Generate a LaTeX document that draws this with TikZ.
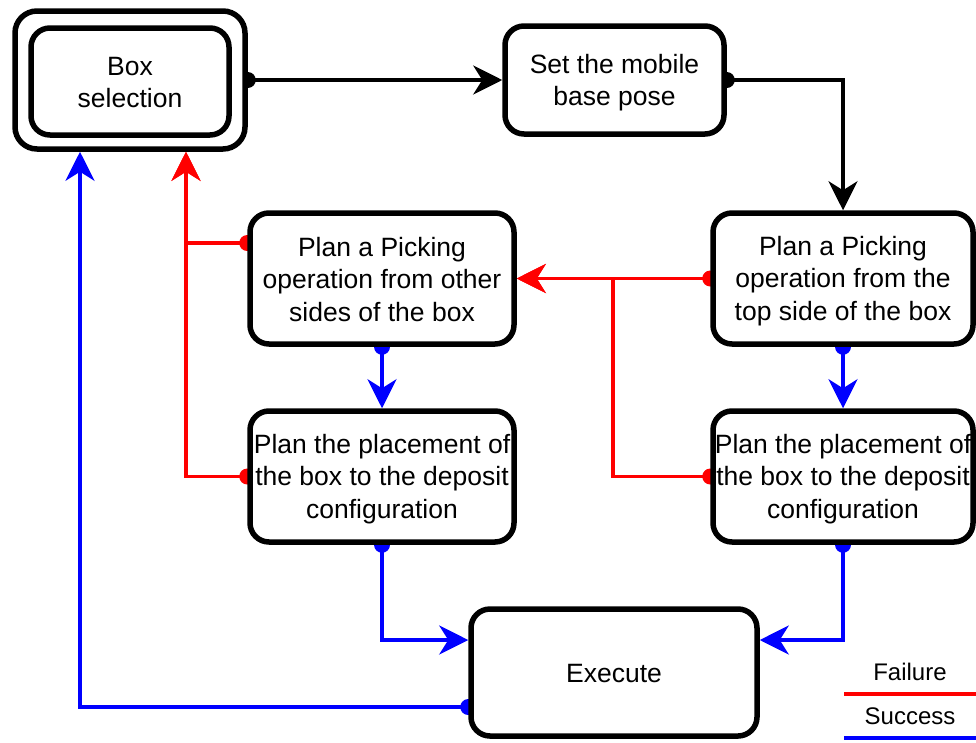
\documentclass[tikz,border=0pt]{standalone}
\usepackage{fontspec}
\setmainfont{Liberation Sans}
\usetikzlibrary{arrows.meta,calc}
\pgfdeclarelayer{bg}
\pgfsetlayers{bg,main}
% uniform line strut for the step labels
\newcommand{\ls}{\rule[-4pt]{0pt}{28pt}}
\begin{document}
\begin{tikzpicture}[x=1pt,y=-1pt,
  stepbox/.style={draw=black,line width=5.5pt,fill=white,rounded corners=19pt,
    inner sep=0pt,align=center,font=\fontsize{26.5}{32.5}\selectfont},
  flow/.style={line width=3.8pt,-{Stealth[length=29pt,width=29pt,inset=9pt]}},
  fail/.style={flow,draw=red,color=red},
  ok/.style={flow,draw=blue,color=blue},
  go/.style={flow,draw=black,color=black},
  legendtext/.style={font=\fontsize{24}{28}\selectfont,inner sep=0pt},
  legendline/.style={line width=3.8pt}]
\useasboundingbox (0,0) rectangle (976,742);

% process steps
\node[stepbox,rounded corners=22pt,minimum width=230pt,minimum height=138pt] (selo) at (130,80) {};
\node[stepbox,minimum width=198pt,minimum height=107pt] (sel) at (130,81.5) {\ls Box\\\ls selection};
\node[stepbox,minimum width=219pt,minimum height=108pt] (base) at (614.5,80) {\ls Set the mobile\\\ls base pose};
\node[stepbox,minimum width=264pt,minimum height=131pt] (pother) at (382,278.5)
  {\ls Plan a Picking\\\ls operation from other\\\ls sides of the box};
\node[stepbox,minimum width=260pt,minimum height=131pt] (ptop) at (843,278.5)
  {\ls Plan a Picking\\\ls operation from the\\\ls top side of the box};
\node[stepbox,minimum width=264pt,minimum height=131pt] (plr) at (382,476.5)
  {\ls Plan the placement of\\\ls the box to the deposit\\\ls configuration};
\node[stepbox,minimum width=260pt,minimum height=131pt] (prr) at (843,476.5)
  {\ls Plan the placement of\\\ls the box to the deposit\\\ls configuration};
\node[stepbox,minimum width=286pt,minimum height=127pt] (exec) at (614,672.5) {\ls Execute};

% connection points
\coordinate (selR) at ($(selo.south)+(56,0)$);
\coordinate (selB) at ($(selo.south)+(-50,0)$);
\coordinate (poW) at ($(pother.west)+(0,-35.5)$);
\coordinate (jr) at (613,278.5);
\coordinate (exL) at ($(exec.west)+(0,-32.5)$);
\coordinate (exR) at ($(exec.east)+(0,-32.5)$);
\coordinate (exB) at ($(exec.west)+(0,34.5)$);

\begin{pgfonlayer}{bg}
  % main sequence
  \draw[go] (selo.east) -- (base.west);
  \draw[go] (base.east) -| (ptop.north);
  \fill[black] (selo.east) circle[radius=8pt];
  \fill[black] (base.east) circle[radius=8pt];
  % failure paths
  \draw[fail] (ptop.west) -- (pother.east);
  \draw[fail] (prr.west) -| (jr) -- (pother.east);
  \draw[fail] (poW) -| (selR);
  \draw[fail] (plr.west) -| (selR);
  \fill[red] (ptop.west) circle[radius=8pt];
  \fill[red] (prr.west) circle[radius=8pt];
  \fill[red] (poW) circle[radius=8pt];
  \fill[red] (plr.west) circle[radius=8pt];
  % success paths
  \draw[ok] (pother.south) -- (plr.north);
  \draw[ok] (ptop.south) -- (prr.north);
  \draw[ok] (plr.south) |- (exL);
  \draw[ok] (prr.south) |- (exR);
  \draw[ok] (exB) -| (selB);
  \fill[blue] (pother.south) circle[radius=8pt];
  \fill[blue] (ptop.south) circle[radius=8pt];
  \fill[blue] (plr.south) circle[radius=8pt];
  \fill[blue] (prr.south) circle[radius=8pt];
  \fill[blue] (exB) circle[radius=8pt];
\end{pgfonlayer}

% legend
\node[legendtext] (lfail) at (910,672) {Failure};
\node[legendtext] (lok) at (910,716) {Success};
\coordinate (lf1) at (844,694);
\coordinate (lf2) at (976,694);
\coordinate (ls1) at (844,738);
\coordinate (ls2) at (976,738);
\draw[legendline,red] (lf1) -- (lf2);
\draw[legendline,blue] (ls1) -- (ls2);
\end{tikzpicture}
\end{document}
